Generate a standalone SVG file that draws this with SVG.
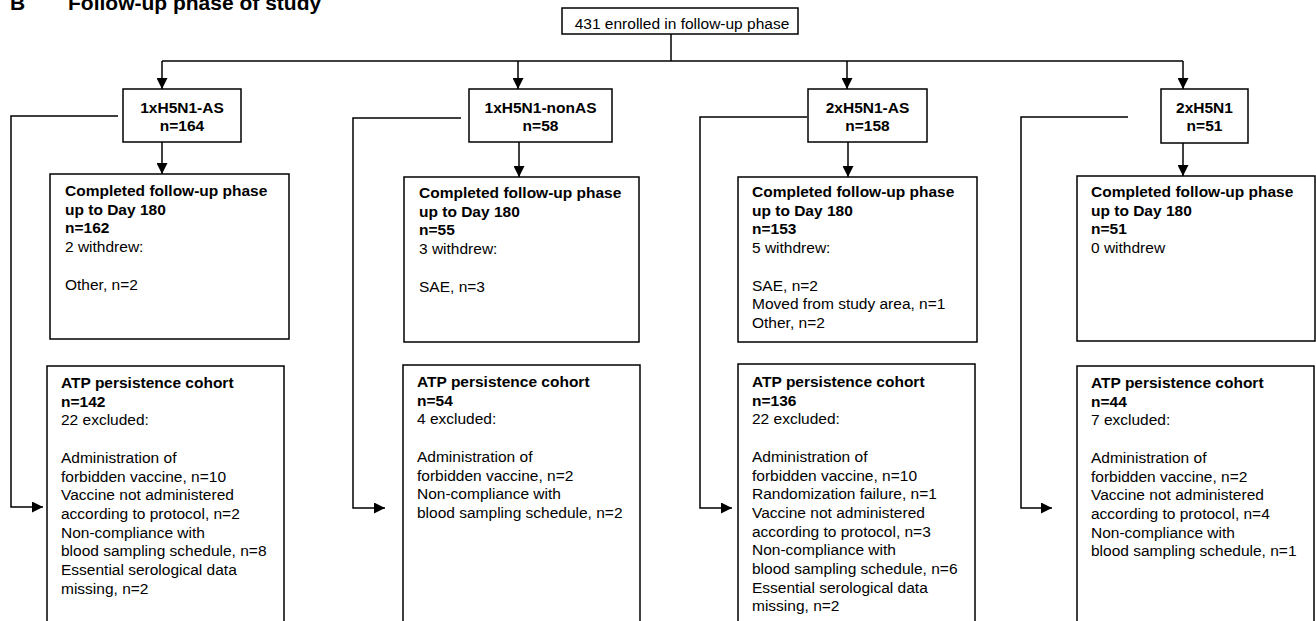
<svg xmlns="http://www.w3.org/2000/svg" width="1316" height="621" viewBox="0 0 1316 621">
<style>
.bx{fill:#fff;stroke:#000;stroke-width:1.5}
.ln{fill:none;stroke:#000;stroke-width:1.5}
text{font-family:"Liberation Sans",Arial,sans-serif;font-size:15.5px;fill:#000}
.b{font-weight:bold}
.c{text-anchor:middle}
.t{font-weight:bold;font-size:21px}
</style>
<defs>
<marker id="ah" viewBox="0 0 11 11" refX="11" refY="5.5" markerWidth="11" markerHeight="11" markerUnits="userSpaceOnUse" orient="auto">
<path d="M0,0 L11,5.5 L0,11 z" fill="#000"/>
</marker>
</defs>
<rect width="1316" height="621" fill="#fff"/>
<g id="title">
<text class="t" x="10" y="10">B</text>
<text class="t" x="68" y="10">Follow-up phase of study</text>
</g>
<g id="connectors">
<path class="ln" d="M671,34 V61"/>
<path class="ln" d="M162,61 H1183"/>
<path class="ln" d="M162,61 V89" marker-end="url(#ah)"/>
<path class="ln" d="M518,61 V89" marker-end="url(#ah)"/>
<path class="ln" d="M847,61 V89" marker-end="url(#ah)"/>
<path class="ln" d="M1183,61 V89" marker-end="url(#ah)"/>
<path class="ln" d="M162,142 V174" marker-end="url(#ah)"/>
<path class="ln" d="M519,142 V177" marker-end="url(#ah)"/>
<path class="ln" d="M848,142 V177" marker-end="url(#ah)"/>
<path class="ln" d="M1183,143 V176" marker-end="url(#ah)"/>
<path class="ln" d="M118,116 H11 V507 H43" marker-end="url(#ah)"/>
<path class="ln" d="M461,118 H353 V508 H385" marker-end="url(#ah)"/>
<path class="ln" d="M807,117 H700 V508 H732" marker-end="url(#ah)"/>
<path class="ln" d="M1128,117 H1021 V508 H1052" marker-end="url(#ah)"/>
</g>
<g id="enrolled">
<rect class="bx" x="562" y="8" width="236" height="26"/>
<text class="c" x="682" y="29">431 enrolled in follow-up phase</text>
</g>
<g id="g1">
<rect class="bx" x="123" y="89" width="118" height="53"/>
<text class="b c" x="182" y="113">1xH5N1-AS</text>
<text class="b c" x="182" y="131">n=164</text>
</g>
<g id="g2">
<rect class="bx" x="469" y="89" width="143" height="53"/>
<text class="b c" x="540.5" y="113">1xH5N1-nonAS</text>
<text class="b c" x="540.5" y="131">n=58</text>
</g>
<g id="g3">
<rect class="bx" x="808" y="89" width="119" height="53"/>
<text class="b c" x="867.5" y="113">2xH5N1-AS</text>
<text class="b c" x="867.5" y="131">n=158</text>
</g>
<g id="g4">
<rect class="bx" x="1161" y="89" width="87" height="54"/>
<text class="b c" x="1204.5" y="113">2xH5N1</text>
<text class="b c" x="1204.5" y="131">n=51</text>
</g>
<g id="c1">
<rect class="bx" x="50" y="174" width="239" height="165"/>
<text class="b" x="65" y="196">Completed follow-up phase</text>
<text class="b" x="65" y="214.7">up to Day 180</text>
<text class="b" x="65" y="233.4">n=162</text>
<text x="65" y="252.1">2 withdrew:</text>
<text x="65" y="289.5">Other, n=2</text>
</g>
<g id="c2">
<rect class="bx" x="404" y="177" width="235" height="165"/>
<text class="b" x="419" y="198">Completed follow-up phase</text>
<text class="b" x="419" y="216.7">up to Day 180</text>
<text class="b" x="419" y="235.4">n=55</text>
<text x="419" y="254.1">3 withdrew:</text>
<text x="419" y="291.5">SAE, n=3</text>
</g>
<g id="c3">
<rect class="bx" x="738" y="177" width="239" height="165"/>
<text class="b" x="752" y="197">Completed follow-up phase</text>
<text class="b" x="752" y="215.7">up to Day 180</text>
<text class="b" x="752" y="234.4">n=153</text>
<text x="752" y="253.1">5 withdrew:</text>
<text x="752" y="290.5">SAE, n=2</text>
<text x="752" y="309.2">Moved from study area, n=1</text>
<text x="752" y="327.9">Other, n=2</text>
</g>
<g id="c4">
<rect class="bx" x="1077" y="176" width="238" height="165"/>
<text class="b" x="1091" y="197">Completed follow-up phase</text>
<text class="b" x="1091" y="215.7">up to Day 180</text>
<text class="b" x="1091" y="234.4">n=51</text>
<text x="1091" y="253.1">0 withdrew</text>
</g>
<g id="a1">
<rect class="bx" x="47" y="366" width="237" height="265"/>
<text class="b" x="61" y="388">ATP persistence cohort</text>
<text class="b" x="61" y="406.7">n=142</text>
<text x="61" y="425.4">22 excluded:</text>
<text x="61" y="462.8">Administration of</text>
<text x="61" y="481.5">forbidden vaccine, n=10</text>
<text x="61" y="500.2">Vaccine not administered</text>
<text x="61" y="518.9">according to protocol, n=2</text>
<text x="61" y="537.6">Non-compliance with</text>
<text x="61" y="556.3">blood sampling schedule, n=8</text>
<text x="61" y="575">Essential serological data</text>
<text x="61" y="593.7">missing, n=2</text>
</g>
<g id="a2">
<rect class="bx" x="403" y="365" width="237" height="265"/>
<text class="b" x="417" y="387">ATP persistence cohort</text>
<text class="b" x="417" y="405.7">n=54</text>
<text x="417" y="424.4">4 excluded:</text>
<text x="417" y="461.8">Administration of</text>
<text x="417" y="480.5">forbidden vaccine, n=2</text>
<text x="417" y="499.2">Non-compliance with</text>
<text x="417" y="517.9">blood sampling schedule, n=2</text>
</g>
<g id="a3">
<rect class="bx" x="738" y="364" width="237" height="265"/>
<text class="b" x="752" y="387">ATP persistence cohort</text>
<text class="b" x="752" y="405.7">n=136</text>
<text x="752" y="424.4">22 excluded:</text>
<text x="752" y="461.8">Administration of</text>
<text x="752" y="480.5">forbidden vaccine, n=10</text>
<text x="752" y="499.2">Randomization failure, n=1</text>
<text x="752" y="517.9">Vaccine not administered</text>
<text x="752" y="536.6">according to protocol, n=3</text>
<text x="752" y="555.3">Non-compliance with</text>
<text x="752" y="574">blood sampling schedule, n=6</text>
<text x="752" y="592.7">Essential serological data</text>
<text x="752" y="611.4">missing, n=2</text>
</g>
<g id="a4">
<rect class="bx" x="1077" y="366" width="237" height="265"/>
<text class="b" x="1091" y="388">ATP persistence cohort</text>
<text class="b" x="1091" y="406.7">n=44</text>
<text x="1091" y="425.4">7 excluded:</text>
<text x="1091" y="462.8">Administration of</text>
<text x="1091" y="481.5">forbidden vaccine, n=2</text>
<text x="1091" y="500.2">Vaccine not administered</text>
<text x="1091" y="518.9">according to protocol, n=4</text>
<text x="1091" y="537.6">Non-compliance with</text>
<text x="1091" y="556.3">blood sampling schedule, n=1</text>
</g>
</svg>
